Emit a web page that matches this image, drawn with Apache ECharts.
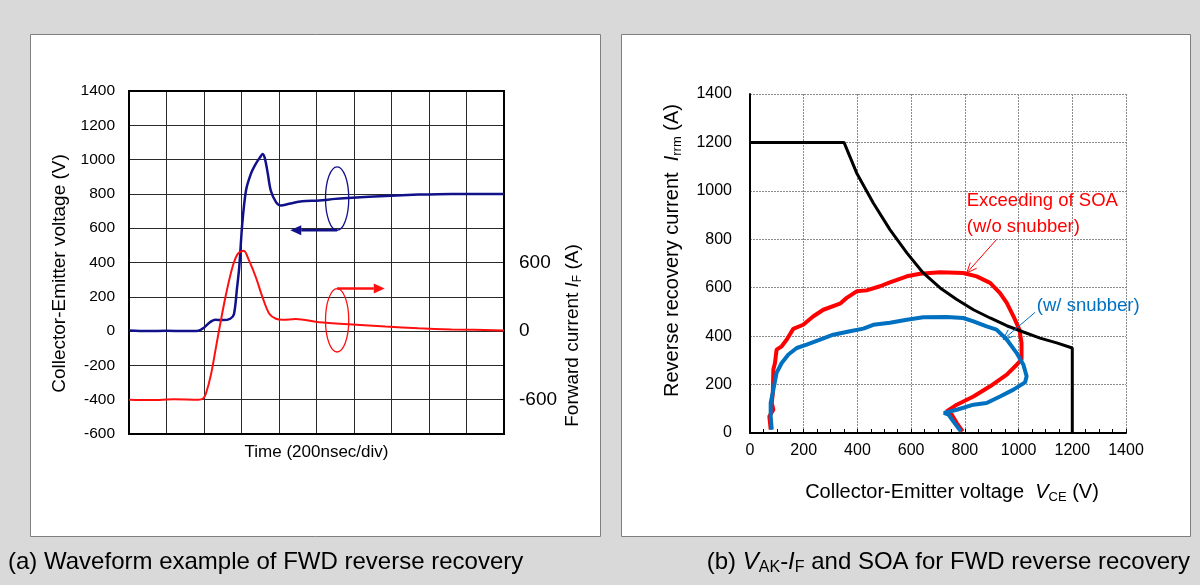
<!DOCTYPE html>
<html><head><meta charset="utf-8">
<script src="https://cdn.jsdelivr.net/npm/echarts@6/dist/echarts.min.js"></script>
<style>html,body{margin:0;padding:0;background:#d9d9d9;}#c{width:1200px;height:585px;}</style>
</head><body><div id="c"></div>
<script>
// ---------- (a) waveform data ----------
const vceTime = [0,0.5,1.0,1.5,1.85,2.0,2.15,2.3,2.5,2.7,2.8,2.88,2.94,3.02,3.12,3.25,3.38,3.5,3.56,3.62,3.7,3.78,3.92,4.05,4.27,4.62,5.07,5.5,5.95,6.84,7.72,8.6,10];
const vceValues = [3,0,2,0,2,20,50,66,64,72,100,250,373,625,820,917,975,1015,1033,1010,920,820,752,732,742,757,761,771,777,788,796,800,800];
const ifTime = [0,0.6,1.2,1.85,1.97,2.05,2.19,2.32,2.45,2.59,2.76,2.9,3.06,3.2,3.38,3.56,3.74,3.92,4.09,4.45,5.07,5.95,6.84,7.72,8.6,10];
const ifValues = [-600,-603,-597,-600,-592,-548,-374,-140,93,326,560,675,703,618,473,297,152,108,99,105,78,58,40,25,15,6];
const vceTicks = [-600,-400,-200,0,200,400,600,800,1000,1200,1400];
const ifTicksShown = [-600,0,600];

// ---------- (b) SOA data ----------
const soaV = [0,350,397,459,521,584,645,708,770,832,894,956,1018,1080,1142,1200,1200];
const soaI = [1200,1200,1074,950,840,744,661,599,551,509,475,443,417,392,372,351,0];
const noSnubV = [792,770,751,732,770,832,894,956,993,1011,1011,1003,981,956,931,894,844,794,708,633,584,521,484,434,397,360,335,273,236,198,161,137,118,99,93,87,85,81,87,72,77];
const noSnubI = [7,41,76,89,117,151,193,241,282,303,372,427,482,537,578,620,647,661,664,658,647,622,606,589,585,558,534,509,482,447,430,386,358,344,289,262,165,124,96,69,14];
const snubV = [785,757,739,722,770,832,881,931,981,1024,1030,1018,993,956,918,881,832,794,732,645,584,521,459,422,372,310,261,211,174,143,118,99,87,77,77,81];
const snubI = [7,48,76,83,96,117,124,151,179,209,234,282,330,386,427,440,461,475,479,478,468,455,447,431,420,406,386,365,351,324,289,248,179,124,69,14];

const FONT = "'Liberation Sans', Arial, sans-serif";
const zip = (a,b) => a.map((v,i)=>[v,b[i]]);
const plain = v => String(v);

const subRich = (size) => ({
  i: {fontStyle:'italic', fontSize:size, fontFamily:FONT, color:'#000'},
  sub: {fontSize:Math.round(size*0.65), fontFamily:FONT, color:'#000', padding:[Math.round(size*0.5),0,0,0]}
});

const chart = echarts.init(document.getElementById('c'), null, {renderer:'canvas', width:1200, height:585});

const option = {
  animation:false,
  backgroundColor:'#d9d9d9',
  textStyle:{fontFamily:FONT},
  grid:[
    {left:129, top:91, width:375, height:343, show:true, borderColor:'#000', borderWidth:2, backgroundColor:'transparent', z:3},
    {left:750, top:94, width:376, height:339}
  ],
  xAxis:[
    {gridIndex:0, type:'value', min:0, max:10, interval:1,
     axisLine:{show:false}, axisTick:{show:false}, axisLabel:{show:false},
     splitLine:{show:true, lineStyle:{color:'#2a2a2a', width:1}},
     name:'Time (200nsec/div)', nameLocation:'middle', nameGap:10,
     nameTextStyle:{fontSize:17, color:'#000', fontFamily:FONT, verticalAlign:'top'}},
    {gridIndex:1, type:'value', min:0, max:1400, interval:200,
     axisLine:{show:true, onZero:false, lineStyle:{color:'#000', width:2}},
     axisTick:{show:true, inside:true, length:4, lineStyle:{color:'#000', width:1}},
     minorTick:{show:true, splitNumber:4, length:4, lineStyle:{color:'#000', width:1}},
     axisLabel:{fontSize:16, color:'#000', margin:10, fontFamily:FONT, formatter:plain},
     splitLine:{show:true, lineStyle:{color:'#8a8a8a', width:1, type:[2,1]}},
     name:'Collector-Emitter voltage  {i|V}{sub|CE} (V)', nameLocation:'middle', nameGap:48,
     nameTextStyle:{fontSize:20, color:'#000', fontFamily:FONT, padding:[0,0,0,28], rich:subRich(20)}}
  ],
  yAxis:[
    {gridIndex:0, type:'value', min:-600, max:1400, interval:200,
     axisLine:{show:false}, axisTick:{show:false},
     axisLabel:{fontSize:15.5, color:'#000', margin:14, fontFamily:FONT, formatter:plain},
     splitLine:{show:true, lineStyle:{color:'#2a2a2a', width:1}},
     name:'Collector-Emitter voltage (V)', nameLocation:'middle', nameGap:60, nameRotate:90,
     nameTextStyle:{fontSize:19, color:'#000', fontFamily:FONT, padding:[0,22,0,0]}},
    {gridIndex:0, type:'value', position:'right', min:-900, max:2100, interval:300,
     axisLine:{show:false}, axisTick:{show:false}, splitLine:{show:false},
     axisLabel:{fontSize:19, color:'#000', margin:15, fontFamily:FONT,
       formatter:v => ifTicksShown.indexOf(v) >= 0 ? String(v) : ''},
     name:'Forward current {i|I}{sub|F} (A)', nameLocation:'middle', nameGap:58, nameRotate:90,
     nameTextStyle:{fontSize:19, color:'#000', fontFamily:FONT, padding:[0,146,0,0], rich:subRich(19)}},
    {gridIndex:1, type:'value', min:0, max:1400, interval:200,
     axisLine:{show:true, onZero:false, lineStyle:{color:'#000', width:2}},
     axisTick:{show:false},
     axisLabel:{fontSize:16, color:'#000', margin:18, fontFamily:FONT, formatter:plain},
     splitLine:{show:true, lineStyle:{color:'#8a8a8a', width:1, type:[2,1]}},
     name:'Reverse recovery current  {i|I}{sub|rrm} (A)', nameLocation:'middle', nameGap:66, nameRotate:90,
     nameTextStyle:{fontSize:20, color:'#000', fontFamily:FONT, padding:[0,0,0,26], rich:subRich(20)}}
  ],
  series:[
    {type:'line', name:'Vce', xAxisIndex:0, yAxisIndex:0, data:zip(vceTime,vceValues), showSymbol:false, smooth:0.3,
     lineStyle:{color:'#11118a', width:2.5}, z:4},
    {type:'line', name:'IF', xAxisIndex:0, yAxisIndex:1, data:zip(ifTime,ifValues), showSymbol:false, smooth:0.3,
     lineStyle:{color:'#ff1010', width:2}, z:4},
    {type:'line', name:'w/o snubber', xAxisIndex:1, yAxisIndex:2, data:zip(noSnubV,noSnubI), showSymbol:false,
     lineStyle:{color:'#ff0000', width:4}, z:4},
    {type:'line', name:'w/ snubber', xAxisIndex:1, yAxisIndex:2, data:zip(snubV,snubI), showSymbol:false,
     lineStyle:{color:'#0070c0', width:4}, z:5},
    {type:'line', name:'SOA', xAxisIndex:1, yAxisIndex:2, data:zip(soaV,soaI), showSymbol:false,
     lineStyle:{color:'#000', width:3}, z:6}
  ]
};
chart.setOption(option);

// ---------- annotations (data coordinates) ----------
const P0 = (x,y,axis) => chart.convertToPixel({xAxisIndex:0, yAxisIndex:axis||0}, [x,y]);
const P1 = (x,y) => chart.convertToPixel({xAxisIndex:1, yAxisIndex:2}, [x,y]);

function filledArrow(from, to, color, w, head) {
  const ang = Math.atan2(to[1]-from[1], to[0]-from[0]);
  const back = [to[0]-head*Math.cos(ang), to[1]-head*Math.sin(ang)];
  const px = -Math.sin(ang)*head*0.45, py = Math.cos(ang)*head*0.45;
  return [
    {type:'line', shape:{x1:from[0], y1:from[1], x2:back[0], y2:back[1]}, style:{stroke:color, lineWidth:w}, z:20},
    {type:'polygon', shape:{points:[to,[back[0]+px,back[1]+py],[back[0]-px,back[1]-py]]}, style:{fill:color}, z:20}
  ];
}
function openArrow(from, to, color, w, head) {
  const ang = Math.atan2(to[1]-from[1], to[0]-from[0]);
  const a1 = ang + Math.PI - 0.4, a2 = ang + Math.PI + 0.4;
  return [
    {type:'line', shape:{x1:from[0], y1:from[1], x2:to[0], y2:to[1]}, style:{stroke:color, lineWidth:w}, z:20},
    {type:'polyline', shape:{points:[[to[0]+head*Math.cos(a1), to[1]+head*Math.sin(a1)], to, [to[0]+head*Math.cos(a2), to[1]+head*Math.sin(a2)]]}, style:{stroke:color, lineWidth:w, fill:null}, z:20}
  ];
}
function ellipse(cx, cy, hw, hh, color) {
  const c = P0(cx, cy), e = P0(cx+hw, cy+hh);
  return {type:'ellipse', shape:{cx:c[0], cy:c[1], rx:Math.abs(e[0]-c[0]), ry:Math.abs(e[1]-c[1])}, style:{stroke:color, lineWidth:1.3, fill:null}, z:20};
}

const blueEll = {x:5.55, y:773, hw:0.31, hh:185};
const redEll = {x:5.55, y:63, hw:0.31, hh:185};

const graphics = [
  {type:'rect', shape:{x:30.5, y:34.5, width:570, height:502}, style:{fill:'#fff', stroke:'#7f7f7f', lineWidth:1}, z:-100},
  {type:'rect', shape:{x:621.5, y:34.5, width:569, height:502}, style:{fill:'#fff', stroke:'#7f7f7f', lineWidth:1}, z:-100},
  ellipse(blueEll.x, blueEll.y, blueEll.hw, blueEll.hh, '#11118a'),
  ellipse(redEll.x, redEll.y, redEll.hw, redEll.hh, '#ff1010'),
  ...filledArrow(P0(blueEll.x, blueEll.y-blueEll.hh), P0(4.30, blueEll.y-blueEll.hh), '#11118a', 2.5, 11),
  ...filledArrow(P0(redEll.x, redEll.y+redEll.hh), P0(6.82, redEll.y+redEll.hh), '#ff1010', 2.5, 11),
  ...openArrow(P1(918,799), P1(807,661), '#ff0000', 1, 11),
  ...openArrow(P1(1061,498), P1(943,386), '#0070c0', 1, 11),
  {type:'text', x:P1(807,957)[0], y:P1(807,957)[1], style:{text:'Exceeding of SOA', fill:'#ff0000', font:'18.5px '+FONT, verticalAlign:'middle'}, z:20},
  {type:'text', x:P1(807,853)[0], y:P1(807,853)[1], style:{text:'(w/o snubber)', fill:'#ff0000', font:'18.5px '+FONT, verticalAlign:'middle'}, z:20},
  {type:'text', x:P1(1068,523)[0], y:P1(1068,523)[1], style:{text:'(w/ snubber)', fill:'#0070c0', font:'18.5px '+FONT, verticalAlign:'middle'}, z:20},
  {type:'text', x:8, y:562, style:{text:'(a) Waveform example of FWD reverse recovery', fill:'#000', font:'24px '+FONT, verticalAlign:'middle'}, z:20},
  {type:'text', x:1190, y:562, style:{text:'(b) {i|V}{sub|AK}-{i|I}{sub|F} and SOA for FWD reverse recovery', fill:'#000', font:'24px '+FONT, align:'right', verticalAlign:'middle',
    rich:{i:{fontStyle:'italic', fontSize:24, fontFamily:FONT, fill:'#000'}, sub:{fontSize:16, fontFamily:FONT, fill:'#000', padding:[12,0,0,0]}}}, z:20}
];
chart.setOption({graphic:graphics});
</script>
</body></html>
